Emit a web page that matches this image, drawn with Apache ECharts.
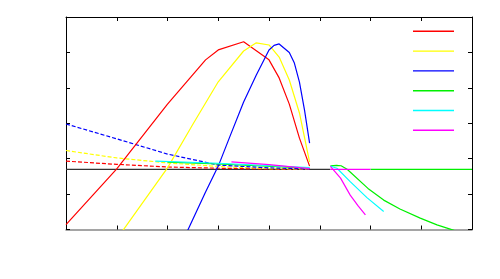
<!DOCTYPE html>
<html>
<head>
<meta charset="utf-8">
<script src="https://cdn.jsdelivr.net/npm/echarts@6/dist/echarts.min.js"></script>
<style>html,body{margin:0;padding:0;background:#fff;}#c{width:500px;height:279px;}</style>
</head>
<body>
<div id="c"></div>
<script>
// x ticks (0..8), y ticks (zero line lies between ticks)
const xTicks = [0, 1, 2, 3, 4, 5, 6, 7, 8];
const yTicks = [-1.7, -0.7, 0.3, 1.3, 2.3, 3.3, 4.3];

// solid curves
const redX = [0, 1, 2, 2.75, 3, 3.5, 4, 4.2, 4.4, 4.6, 4.8];
const redY = [-1.56, 0.01, 1.84, 3.09, 3.37, 3.60, 3.09, 2.58, 1.84, 0.88, 0.09];
const yellowX = [1, 2, 2.5, 3, 3.5, 3.75, 4, 4.2, 4.4, 4.6, 4.8];
const yellowY = [-1.97, 0.04, 1.27, 2.47, 3.34, 3.57, 3.51, 3.17, 2.52, 1.59, 0.2];
const blueX = [2.38, 2.75, 3, 3.25, 3.5, 3.75, 4, 4.1, 4.2, 4.4, 4.5, 4.6, 4.7, 4.8];
const blueY = [-1.78, -0.64, 0.09, 1.0, 1.90, 2.66, 3.37, 3.50, 3.54, 3.30, 3.00, 2.46, 1.67, 0.74];

// dashed curves
const blueDashX = [0, 1, 2, 3, 4, 4.8];
const blueDashY = [1.28, 0.86, 0.43, 0.12, 0.04, 0.01];
const yellowDashX = [0, 1, 2, 3, 4, 4.8];
const yellowDashY = [0.53, 0.32, 0.18, 0.08, 0.02, 0.01];
const redDashX = [0, 1, 2, 3, 4, 4.8];
const redDashY = [0.23, 0.14, 0.065, 0.03, 0.01, 0];

// green / cyan / magenta, left part
const greenAX = [2.0, 3.0, 4.8];
const greenAY = [0.2, 0.15, 0.03];
const cyanAX = [1.76, 3.0, 4.8];
const cyanAY = [0.23, 0.17, 0.05];
const magentaAX = [3.26, 4.0, 4.8];
const magentaAY = [0.21, 0.13, 0.02];

// green / cyan / magenta, right part
const greenBX = [5.21, 5.33, 5.42, 5.54, 5.95, 6.26, 6.58, 6.98, 7.31, 7.57, 7.7];
const greenBY = [0.10, 0.11, 0.10, 0, -0.54, -0.87, -1.12, -1.38, -1.57, -1.69, -1.75];
const cyanBX = [5.21, 5.34, 5.6, 5.93, 6.26];
const cyanBY = [0.09, 0.03, -0.35, -0.80, -1.19];
const magentaBX = [5.21, 5.41, 5.6, 5.76, 5.9];
const magentaBY = [0.08, -0.25, -0.73, -1.04, -1.29];

// zero-level segments
const zeroBlackX = [0, 5.21];
const zeroMagentaX = [5.21, 6];
const zeroGreenX = [6, 8];

const legendNames = ['s1', 's2', 's3', 's4', 's5', 's6'];

const zip = (xs, ys) => xs.map((x, i) => [x, ys[i]]);
const zeros = xs => xs.map(x => [x, 0]);

function line(name, color, data, dashed, width, z) {
  return {
    name: name, type: 'line', data: data, symbol: 'none', silent: true,
    animation: false, clip: true, z: z || 2,
    lineStyle: { color: color, width: width || 1.2, type: dashed ? [4, 2] : 'solid' },
    itemStyle: { color: color }
  };
}

const RED = '#ff0000', YEL = '#ffff00', BLU = '#0000ff', GRN = '#00f000', CYA = '#00ffff', MAG = '#ff00ff';

const series = [
  line('s1', RED, zip(redX, redY), false, 1.2, 3),
  line('s2', YEL, zip(yellowX, yellowY), false, 1.2, 3),
  line('s3', BLU, zip(blueX, blueY), false, 1.2, 3),
  line('s4', GRN, zip(greenAX, greenAY), false, 1.2, 3),
  line('s5', CYA, zip(cyanAX, cyanAY), false, 1.2, 3),
  line('s6', MAG, zip(magentaAX, magentaAY), false, 1.2, 3),
  line('zero', '#333333', zeros(zeroBlackX), false, 1.2, 1),
  line('d1', RED, zip(redDashX, redDashY), true, 1.2, 2),
  line('d2', YEL, zip(yellowDashX, yellowDashY), true, 1.2, 2),
  line('d3', BLU, zip(blueDashX, blueDashY), true, 1.2, 2),
  line('s4', GRN, zeros(zeroGreenX), false, 1.2, 3),
  line('s4', GRN, zip(greenBX, greenBY), false, 1.2, 3),
  line('s5', CYA, zip(cyanBX, cyanBY), false, 1.2, 3),
  line('s6', MAG, zeros(zeroMagentaX), false, 1.2, 3),
  line('s6', MAG, zip(magentaBX, magentaBY), false, 1.2, 3)
];

const iconPath = 'path://M0,0L0.01,0L0.01,0.01L0,0.01Z M0,6.3L41,6.3L41,7.7L0,7.7Z M40.99,13.99L41,13.99L41,14L40.99,14Z';
const tickStyle = { show: true, inside: true, length: 4, lineStyle: { color: '#000', width: 1 } };
const chart = echarts.init(document.getElementById('c'), null, { renderer: 'canvas' });
chart.setOption({
  animation: false,
  backgroundColor: '#ffffff',
  grid: { left: 66, top: 17, right: 28, bottom: 49.5, show: false },
  legend: {
    data: legendNames, orient: 'vertical', left: 413, top: 24.3, padding: 0,
    itemWidth: 41, itemHeight: 14, itemGap: 5.8, icon: iconPath,
    itemStyle: { borderWidth: 0 },
    formatter: () => '', textStyle: { fontSize: 10 }, selectedMode: false
  },
  xAxis: [
    { type: 'value', position: 'bottom', min: xTicks[0], max: xTicks[xTicks.length - 1], interval: 1,
      axisLine: { show: true, onZero: false, lineStyle: { color: '#888', width: 1.5 } },
      axisTick: tickStyle, axisLabel: { show: false }, splitLine: { show: false } },
    { type: 'value', position: 'top', min: xTicks[0], max: xTicks[xTicks.length - 1], interval: 1,
      axisLine: { show: true, onZero: false, lineStyle: { color: '#000', width: 1 } },
      axisTick: tickStyle, axisLabel: { show: false }, splitLine: { show: false } }
  ],
  yAxis: [
    { type: 'value', position: 'left', min: yTicks[0], max: yTicks[yTicks.length - 1],
      axisLine: { show: true, onZero: false, lineStyle: { color: '#000', width: 1 } },
      axisTick: Object.assign({ customValues: yTicks }, tickStyle),
      axisLabel: { show: false, customValues: yTicks }, splitLine: { show: false } },
    { type: 'value', position: 'right', min: yTicks[0], max: yTicks[yTicks.length - 1],
      axisLine: { show: true, onZero: false, lineStyle: { color: '#000', width: 1 } },
      axisTick: Object.assign({ customValues: yTicks }, tickStyle),
      axisLabel: { show: false, customValues: yTicks }, splitLine: { show: false } }
  ],
  series: series
});
</script>
</body>
</html>
